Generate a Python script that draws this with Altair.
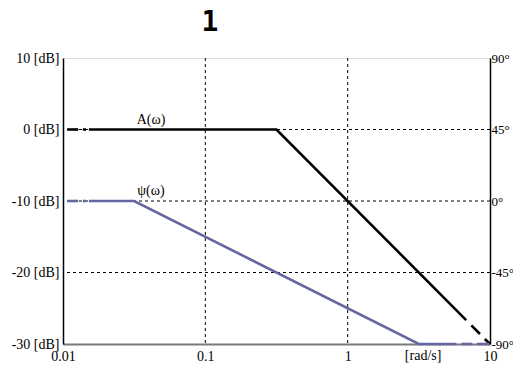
import altair as alt
import pandas as pd

# Amplitude A(w) pieces (rad/s, dB); seg groups break the dashed ends
amp_w = [0.0107, 0.0128, 0.0138, 0.0145, 0.0152, 0.316, 6.8, 7.4, 8.5, 9.2, 10]
amp_db = [0, 0, 0, 0, 0, 0, -26.65, -27.4, -28.6, -29.3, -30]
amp_seg = [0, 0, 1, 1, 2, 2, 2, 3, 3, 4, 4]

# Phase psi(w) pieces (plotted on the dB scale; right axis reads degrees)
ph_w = [0.0107, 0.0128, 0.0138, 0.0145, 0.0152, 0.0316, 3.16, 5.8, 6.3, 7.5, 8.1, 9.9]
ph_db = [-10, -10, -10, -10, -10, -10, -30, -30, -30, -30, -30, -30]
ph_seg = [0, 0, 1, 1, 2, 2, 2, 2, 3, 3, 4, 4]

x_ticks = [0.01, 0.1, 1, 10]
y_ticks = [-30, -20, -10, 0, 10]
grid_x = [0.1, 1]
grid_y = [0, -10, -20]

label_text = ["A(ω)", "ψ(ω)"]
label_w = [0.0415, 0.0415]
label_db = [0, -10]

unit_text = ["[rad/s]"]
unit_w = [3.39]
unit_db = [-30]

amp = pd.DataFrame({"w": amp_w, "v": amp_db, "seg": amp_seg})
ph = pd.DataFrame({"w": ph_w, "v": ph_db, "seg": ph_seg})
labels = pd.DataFrame({"w": label_w, "v": label_db, "t": label_text})
units = pd.DataFrame({"w": unit_w, "v": unit_db, "t": unit_text})
gx = pd.DataFrame({"w": grid_x})
gy = pd.DataFrame({"v": grid_y})

xscale = alt.Scale(type="log", domain=[0.01, 10], nice=False)
yscale = alt.Scale(domain=[-30, 10], nice=False, zero=False)

xaxis = alt.Axis(
    values=x_ticks, title=None, grid=False, ticks=False,
    domainColor="#7a7a7a", domainWidth=2,
    labelFont="Liberation Serif", labelFontSize=14, labelColor="black",
    labelPadding=5, labelExpr="datum.value >= 1 ? format(datum.value, 'd') : format(datum.value, '.2~f')",
    labelFlush=False,
)
yaxis_left = alt.Axis(
    values=y_ticks, title=None, grid=False, ticks=False, domainColor="black",
    domainWidth=1.5, labelFont="Liberation Serif", labelFontSize=14,
    labelColor="black", labelPadding=4, labelExpr="datum.value + ' [dB]'",
    orient="left",
)
yaxis_right = alt.Axis(
    values=y_ticks, title=None, grid=False, ticks=False, domainColor="black",
    domainWidth=1.5, labelFont="Liberation Serif", labelFontSize=13,
    labelColor="black", labelPadding=1,
    labelExpr="(datum.value * 4.5 + 45) + '°'", orient="right",
)

grid_v = alt.Chart(gx).mark_rule(color="black", strokeWidth=1, strokeDash=[3, 3]).encode(
    x=alt.X("w:Q", scale=xscale, axis=xaxis)
)
grid_h = alt.Chart(gy).mark_rule(color="black", strokeWidth=1, strokeDash=[3, 3]).encode(
    y=alt.Y("v:Q", scale=yscale, axis=None)
)
amp_line = alt.Chart(amp).mark_line(color="black", strokeWidth=2.6, strokeCap="butt").encode(
    x=alt.X("w:Q", scale=xscale, axis=xaxis),
    y=alt.Y("v:Q", scale=yscale, axis=yaxis_left),
    detail="seg:N",
)
ph_line = alt.Chart(ph).mark_line(color="#6567a2", strokeWidth=2.6, strokeCap="butt").encode(
    x=alt.X("w:Q", scale=xscale, axis=xaxis),
    y=alt.Y("v:Q", scale=yscale, axis=yaxis_right),
    detail="seg:N",
)
lab = alt.Chart(labels).mark_text(
    font="Liberation Serif", fontSize=14, color="black", baseline="bottom", dy=-3
).encode(x=alt.X("w:Q", scale=xscale, axis=xaxis), y=alt.Y("v:Q", scale=yscale, axis=None), text="t:N")
unit = alt.Chart(units).mark_text(
    font="Liberation Serif", fontSize=14, color="black", baseline="top", dy=5
).encode(x=alt.X("w:Q", scale=xscale, axis=xaxis), y=alt.Y("v:Q", scale=yscale, axis=None), text="t:N")
title = alt.Chart(pd.DataFrame({"t": ["1"]})).mark_text(
    font="DejaVu Sans Mono", fontSize=28, fontWeight="bold", color="black",
    baseline="middle", align="center"
).encode(x=alt.value(147), y=alt.value(-35), text="t:N")

chart = alt.layer(grid_v, grid_h, amp_line, ph_line, lab, unit, title).resolve_axis(y="independent").properties(
    width=427, height=286,
    autosize=alt.AutoSizeParams(type="none"),
    padding={"left": 55, "top": 50, "right": 23, "bottom": 19},
).configure_view(stroke="#7a7a7a", strokeWidth=2).configure(background="white")

chart.save("out.html", embed_options={"renderer": "svg", "actions": False})
